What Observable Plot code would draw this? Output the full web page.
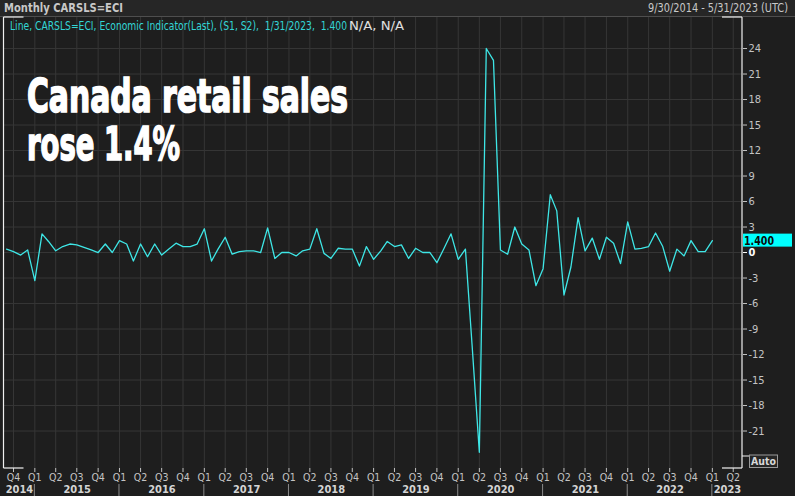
<!DOCTYPE html>
<html><head><meta charset="utf-8">
<script src="https://cdn.jsdelivr.net/npm/d3@7"></script>
<script src="https://cdn.jsdelivr.net/npm/@observablehq/plot@0.6"></script>
<style>
html,body{margin:0;padding:0;background:#1e1e1e;}
#chart{width:795px;height:496px;overflow:hidden;}
</style></head><body><div id="chart"></div>
<script>
// Monthly % change, Sep 2014 .. Jan 2023
const firstMonth = [2014, 8]; // UTC year, month index (Sep)
const values = [
  0.4, 0.1, -0.3, 0.3,                                   // 2014 Sep-Dec
  -3.3, 2.2, 1.3, 0.2, 0.7, 1.0, 0.9, 0.6, 0.3, 0.0, 1.0, 0.0,   // 2015
  1.4, 1.0, -1.0, 1.0, -0.5, 1.0, -0.3, 0.4, 1.1, 0.7, 0.7, 1.0, // 2016
  2.8, -1.0, 0.4, 1.8, -0.2, 0.1, 0.2, 0.2, 0.0, 2.9, -0.7, 0.0, // 2017
  0.0, -0.4, 0.2, 0.4, 2.8, -0.1, -0.7, 0.5, 0.4, 0.4, -1.6, 0.7, // 2018
  -0.8, 0.2, 1.3, 0.7, 0.9, -0.7, 0.5, 0.0, 0.0, -1.2, 0.5, 2.2,  // 2019
  -0.8, 0.4, -11.0, -23.5, 24.0, 22.6, 0.3, -0.2, 3.0, 1.0, 0.3, -3.9, // 2020
  -1.9, 6.8, 4.9, -5.0, -1.7, 4.1, 0.2, 1.7, -0.8, 1.8, 1.1, -1.3, // 2021
  3.6, 0.4, 0.5, 0.7, 2.3, 0.7, -2.2, 0.4, -0.4, 1.4, 0.1, 0.1,    // 2022
  1.4                                                      // 2023 Jan
];
const yTicks = [-21, -18, -15, -12, -9, -6, -3, 0, 3, 6, 9, 12, 15, 18, 21, 24];
const years = ["2014","2015","2016","2017","2018","2019","2020","2021","2022","2023"];
const lastValue = 1.4;
const lastLabel = "1.400";
const headerLeft = "Monthly CARSLS=ECI";
const headerRight = "9/30/2014 - 5/31/2023 (UTC)";
const legendMain = "Line, CARSLS=ECI, Economic Indicator(Last), (S1, S2),  1/31/2023,  1.400";
const legendTail = "N/A, N/A";
const titleLines = ["Canada retail sales", "rose 1.4%"];

(function () {
const data = values.map((v, i) => ({date: new Date(Date.UTC(firstMonth[0], firstMonth[1] + i, 1)), value: v}));
const xDomain = [new Date(Date.UTC(2014, 7, 21)), new Date(Date.UTC(2023, 4, 11))];
const quarters = d3.utcMonth.every(3).range(new Date(Date.UTC(2014, 9, 1)), new Date(Date.UTC(2023, 4, 1)));
const yearStarts = years.map(y => new Date(Date.UTC(+y, 0, 1)));
const yearSpans = years.map((y, i) => {
  const a = i === 0 ? xDomain[0] : yearStarts[i];
  const b = i === years.length - 1 ? xDomain[1] : yearStarts[i + 1];
  return {year: y, mid: new Date((+a + +b) / 2)};
});

const W = 795, H = 496, mT = 17, mB = 28, mL = 3.5, mR = 53;
const FONT = "'DejaVu Sans Condensed','DejaVu Sans',sans-serif";
const grid = "#363636";
const axisColor = "#c4c4c4";

const plot = Plot.plot({
  width: W, height: H,
  marginTop: mT, marginBottom: mB, marginLeft: mL, marginRight: mR,
  style: {background: "#1e1e1e", color: axisColor, fontFamily: FONT, fontSize: "11px"},
  x: {type: "utc", domain: xDomain, label: null},
  y: {domain: [-25.41, 27.65], label: null},
  marks: [
    Plot.ruleY(yTicks, {stroke: grid}),
    Plot.ruleX(quarters, {stroke: grid}),
    Plot.line(data, {x: "date", y: "value", stroke: "#3ee6e6", strokeWidth: 1.3}),
    Plot.axisY(yTicks.filter(d => d !== 0), {anchor: "right", label: null, tickSize: 4, tickPadding: 2, color: axisColor, tickFormat: d => String(d), fontSize: 11}),
    Plot.axisY([0], {anchor: "right", label: null, tickSize: 4, tickPadding: 2, color: "#ffffff", fontWeight: "bold", tickFormat: d => String(d), fontSize: 11}),
    Plot.axisX(quarters, {anchor: "bottom", label: null, tickSize: 4, tickPadding: 1, color: axisColor, tickFormat: d => "Q" + (d.getUTCMonth() / 3 + 1), fontSize: 10.5}),
    Plot.text(yearSpans, {x: "mid", text: "year", frameAnchor: "bottom", dy: 24, fontWeight: "bold", fontSize: 11, fill: "#d4d4d4"})
  ]
});
document.getElementById("chart").appendChild(plot);

const svg = d3.select(plot);
const xs = plot.scale("x"), ys = plot.scale("y");
const fL = mL, fR = W - mR, fT = mT, fB = H - mB;

const txt = (x, y, s, opts = {}) => {
  const t = svg.append("text").attr("x", x).attr("y", y).attr("text-anchor", opts.anchor || "start")
    .attr("fill", opts.fill || "#c8c8c8").attr("font-size", opts.size || 11.5)
    .attr("font-family", opts.family || FONT).attr("font-weight", opts.weight || "normal").text(s);
  if (opts.len) t.attr("textLength", opts.len).attr("lengthAdjust", "spacingAndGlyphs");
  return t;
};

// header strip
svg.insert("rect", ":first-child").attr("x", 0).attr("y", 0).attr("width", W).attr("height", fT).attr("fill", "#262626");
svg.append("line").attr("x1", 0).attr("x2", W).attr("y1", fT - 0.5).attr("y2", fT - 0.5).attr("stroke", "#4e4e4e");
txt(4, 12, headerLeft, {weight: "bold", len: 119});
txt(648, 12, headerRight, {len: 140});

// legend
txt(10, 30, legendMain, {fill: "#33d6d6", len: 337});
txt(349, 30, legendTail, {fill: "#e0e0e0", len: 55});

// frame: white side lines and corner brackets
const white = "#f0f0f0";
const seg = (x1, y1, x2, y2) => svg.append("line").attr("x1", x1).attr("y1", y1).attr("x2", x2).attr("y2", y2).attr("stroke", white).attr("stroke-width", 1.2);
seg(fL, fT, fL, fB);
seg(fR, fT, fR, fB);
seg(fL, fT, fL + 20, fT);
seg(fL, fB, fL + 20, fB);
seg(fR - 20, fT, fR, fT);
seg(fR - 20, fB, fR, fB);

// year separators
yearStarts.slice(1).forEach(d => {
  const x = xs.apply(d);
  svg.append("line").attr("x1", x).attr("x2", x).attr("y1", fB + 16).attr("y2", H).attr("stroke", "#8a8a8a");
});

// last value box
const yv = ys.apply(lastValue);
svg.append("rect").attr("x", fR + 1).attr("y", yv - 6.5).attr("width", 49).attr("height", 13).attr("fill", "#00ffff");
txt(fR + 2, yv + 4.5, lastLabel, {fill: "#0a0a0a", weight: "bold", size: 12, len: 30});

// Auto button
seg(fR, fB - 12, fR + 7, fB - 12).attr("stroke-width", 1);
svg.append("rect").attr("x", fR + 7.5).attr("y", fB - 13).attr("width", 28).attr("height", 12.5)
  .attr("fill", "#262626").attr("stroke", "#9a9a9a");
txt(fR + 21.5, fB - 2.8, "Auto", {anchor: "middle", fill: "#d8d8d8", weight: "bold", size: 11, len: 25});

// title
const TFONT = "'Liberation Sans Narrow','DejaVu Sans Condensed',Impact,sans-serif";
[[titleLines[0], 111.5, 321], [titleLines[1], 160, 153]].forEach(([t, y, len]) => {
  txt(27, y, t, {fill: "#ffffff", weight: "bold", size: 46, family: TFONT, len})
    .attr("stroke", "#ffffff").attr("stroke-width", 1.6);
});
})();
</script></body></html>
